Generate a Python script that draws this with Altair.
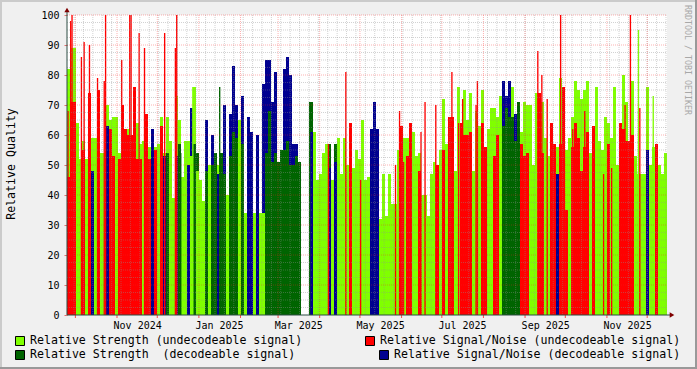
import altair as alt
import pandas as pd

# ---------------- data ----------------
START = "2024-09-24 18:00"
END = "2025-12-15 18:00"
N_BINS = 200

# g = strength undecodeable, r = S/N undecodeable, d = strength decodeable, b = S/N decodeable
BASE_C = ("rrrggrgrbg" "rggbrrgrrr" "rrrrrgrrbr" "grbdggbdgg" "bgdgggdgdd"
          "bddgdddgdg" "bbgbggdddd" "dddddddd__" "_bgggggbgb" "ggggrggggg"
          "gbbbgggggg" "grgrrggrgg" "gggrgrgrrg" "grrrrgggrr" "ggrrgddddd"
          "drrrgggrrg" "grrbrrrgrr" "rrrrgrgggg" "rgggrrrrrg" "gggbggrggg")
BASE_V = [46, 71, 71, 64, 52, 55, 52, 74, 48, 59,
          62, 47, 54, 63, 62, 53, 54, 52, 70, 62,
          60, 60, 76, 52, 52, 58, 67, 52, 62, 55,
          48, 63, 53, 54, 46, 39, 53, 57, 46, 46,
          50, 53, 57, 48, 45, 38, 48, 50, 50, 54,
          47, 54, 47, 40, 53, 61, 59, 45, 57, 34,
          66, 61, 34, 60, 34, 34, 54, 68, 51, 54,
          51, 55, 55, 58, 50, 50, 53, 51, 0, 0,
          0, 61, 51, 45, 47, 54, 50, 49, 45, 51,
          45, 47, 59, 50, 64, 42, 55, 52, 60, 45,
          46, 62, 71, 62, 32, 47, 33, 47, 37, 37,
          55, 63, 47, 53, 61, 56, 53, 48, 40, 40,
          33, 47, 51, 50, 55, 55, 57, 53, 66, 48,
          48, 54, 60, 60, 61, 48, 44, 63, 64, 50,
          52, 56, 53, 60, 56, 63, 69, 66, 66, 58,
          59, 57, 53, 54, 57, 50, 38, 74, 54, 59,
          53, 64, 57, 47, 57, 59, 35, 42, 56, 64,
          59, 48, 56, 61, 54, 63, 46, 58, 46, 57,
          57, 59, 48, 50, 56, 62, 58, 58, 60, 53,
          47, 47, 47, 55, 50, 45, 50, 50, 47, 47]

BACK_C = ("ggg--g--g-" "rg-ggggg--" "g--gg--g-g" "ggggg-gg-g" "gbgd--b-b-"
          "g-b-bbbgb-" "-----bbbbb" "--bbbbb---" "-dg---gd-d" "g----g--g-"
          "----------" "--ggrg-g--" "-----g-r--" "grggg-g-gr" "gggggbbbgb"
          "dgggg-g-g-" "---ggrgggg" "gggg--g-gg" "g-g-rgg-g-" "---g-gr--g")
BACK_V = [82, 89, 89, 0, 0, 58, 0, 0, 59, 0,
          75, 54, 0, 70, 65, 66, 66, 54, 0, 0,
          62, 0, 0, 64, 57, 0, 0, 56, 0, 56,
          57, 66, 54, 66, 58, 0, 73, 65, 0, 58,
          58, 69, 76, 54, 0, 0, 65, 0, 60, 0,
          50, 0, 70, 0, 67, 83, 70, 65, 73, 0,
          0, 0, 0, 0, 0, 77, 85, 85, 71, 81,
          0, 0, 82, 86, 80, 57, 57, 0, 0, 0,
          0, 71, 61, 0, 0, 0, 57, 57, 0, 57,
          59, 0, 0, 0, 0, 49, 0, 0, 65, 0,
          0, 0, 0, 0, 0, 0, 0, 0, 0, 0,
          0, 0, 59, 59, 64, 61, 0, 54, 0, 0,
          0, 0, 0, 0, 0, 72, 0, 66, 0, 0,
          76, 64, 75, 65, 74, 0, 68, 0, 75, 56,
          62, 69, 69, 66, 73, 78, 73, 78, 76, 67,
          71, 61, 71, 70, 70, 0, 74, 0, 71, 0,
          0, 0, 0, 56, 79, 76, 55, 59, 66, 78,
          75, 72, 75, 78, 0, 0, 76, 0, 55, 66,
          64, 0, 76, 0, 64, 80, 71, 0, 78, 0,
          0, 0, 0, 76, 0, 56, 57, 0, 0, 54]

SPIKE_DATES = ["2024-09-25", "2024-09-27", "2024-09-28", "2024-10-05", "2024-10-07",
               "2024-10-11", "2024-10-17", "2024-10-22", "2024-10-23", "2024-11-04",
               "2024-11-10", "2024-11-11", "2024-11-17", "2024-11-21", "2024-12-06",
               "2024-12-14", "2024-12-15", "2024-12-18", "2024-12-27", "2025-01-16",
               "2025-03-24", "2025-04-07", "2025-04-20", "2025-05-01", "2025-05-27",
               "2025-05-30", "2025-06-02", "2025-06-15", "2025-06-18", "2025-06-26",
               "2025-07-08", "2025-07-13", "2025-07-16", "2025-07-26", "2025-07-27",
               "2025-09-10", "2025-09-13", "2025-09-17", "2025-09-27", "2025-10-06",
               "2025-10-15", "2025-10-29", "2025-11-04", "2025-11-14", "2025-11-18",
               "2025-11-24", "2025-11-25", "2025-12-05"]
SPIKE_C = list("rrrrrrrrrrrrrrrrrdgddrrrrrrrrrrrrrrrrrrrrrrrrgrg")
SPIKE_V = [68, 98, 100, 86, 91, 90, 79, 78, 100, 85,
           100, 100, 94, 89, 94, 89, 100, 54, 76, 76,
           71, 57, 81, 45, 50, 68, 51, 61, 71, 70,
           81, 64, 72, 70, 78, 88, 80, 72, 100, 62,
           68, 47, 49, 70, 100, 95, 69, 73]

LABEL_MONTHS = ["2024-11-16", "2025-01-16", "2025-03-16", "2025-05-16",
                "2025-07-16", "2025-09-16", "2025-11-16"]
LEGEND = ["Relative Strength (undecodeable signal)",
          "Relative Strength\u00a0 (decodeable signal)",
          "Relative Signal/Noise (undecodeable signal)",
          "Relative Signal/Noise (decodeable signal)"]

# ---------------- build tables ----------------
edges = pd.date_range(pd.Timestamp(START), pd.Timestamp(END), periods=N_BINS + 1)
base = pd.DataFrame({"start": edges[:-1], "end": edges[1:], "c": list(BASE_C), "v": BASE_V})
base = base[(base.c != "_") & (base.v > 0)]
back = pd.DataFrame({"start": edges[:-1], "end": edges[1:], "c": list(BACK_C), "v": BACK_V})
back = back[(back.c != "-") & (back.v > 0)]
spk = pd.DataFrame({"start": pd.to_datetime(SPIKE_DATES), "c": SPIKE_C, "v": SPIKE_V})
spk["end"] = spk["start"] + pd.Timedelta(days=1)

weeks = pd.DataFrame({"start": pd.date_range("2024-09-30", END, freq="W-MON")})
months = pd.DataFrame({"start": pd.date_range("2024-10-01", END, freq="MS")})
minor_y = pd.DataFrame({"v": [k * 2.5 for k in range(1, 40) if k % 4]})
major_y = pd.DataFrame({"v": list(range(10, 101, 10))})

MONO = "DejaVu Sans Mono"
xscale = alt.Scale(domain=[alt.DateTime(year=2024, month=9, date=24, hours=18),
                           alt.DateTime(year=2025, month=12, date=15, hours=18)], nice=False)
yscale = alt.Scale(domain=[0, 100], nice=False)
cscale = alt.Scale(domain=["g", "r", "d", "b"],
                   range=["#80FF00", "#FF0000", "#006400", "#000090"])

xaxis = alt.Axis(values=[alt.DateTime(year=int(s[:4]), month=int(s[5:7]), date=16) for s in LABEL_MONTHS],
                 format="%b %Y", ticks=False, domain=False, grid=False, title=None,
                 labelFont=MONO, labelFontSize=10, labelColor="#000000",
                 labelBaseline="alphabetic", labelPadding=13, labelOverlap=False, labelFlush=False)
yaxis = alt.Axis(values=list(range(0, 101, 10)), domain=False, grid=False, title=None,
                 labelFont=MONO, labelFontSize=10, labelColor="#000000",
                 tickColor="#E07070", tickSize=3, labelPadding=5)

X = alt.X("start:T", scale=xscale, axis=xaxis)
Y = alt.Y("v:Q", scale=yscale, axis=yaxis)


def bars(df):
    return alt.Chart(df).mark_rect().encode(
        x=X, x2="end:T", y=Y, y2=alt.datum(0),
        color=alt.Color("c:N", scale=cscale, legend=None),
    )


layers = [bars(back), bars(base), bars(spk)]

# grid on top (semi-transparent, dotted like rrdtool)
layers.append(alt.Chart(minor_y).mark_rule(color="#8F8F8F", opacity=0.4, strokeDash=[1, 1]).encode(
    y=Y, x=alt.value(0), x2=alt.value(600)))
layers.append(alt.Chart(weeks).mark_rule(color="#8F8F8F", opacity=0.4, strokeDash=[1, 1]).encode(
    x=X, y=alt.value(0), y2=alt.value(300)))
layers.append(alt.Chart(major_y).mark_rule(color="#F92020", opacity=0.35, strokeDash=[1, 1]).encode(
    y=Y, x=alt.value(0), x2=alt.value(600)))
layers.append(alt.Chart(months).mark_rule(color="#F92020", opacity=0.35, strokeDash=[1, 1]).encode(
    x=X, y=alt.value(0), y2=alt.value(300)))
layers.append(alt.Chart(months).mark_rule(color="#F92020", opacity=0.8).encode(
    x=X, y=alt.value(300), y2=alt.value(303)))

one = pd.DataFrame({"k": [0]})
AXC = "#2C4D43"
layers.append(alt.Chart(one).mark_rule(color=AXC).encode(x=alt.value(0), y=alt.value(-3), y2=alt.value(300)))
layers.append(alt.Chart(one).mark_rule(color=AXC).encode(x=alt.value(0), x2=alt.value(603), y=alt.value(300)))
layers.append(alt.Chart(one).mark_point(shape="triangle-up", filled=True, color="#7F0000", size=28, opacity=1).encode(
    x=alt.value(0), y=alt.value(-5)))
layers.append(alt.Chart(one).mark_point(shape="triangle-right", filled=True, color="#7F0000", size=28, opacity=1).encode(
    x=alt.value(605), y=alt.value(300)))

# y title and watermark
layers.append(alt.Chart(one).mark_text(text="Relative Quality", font=MONO, fontSize=11.6, angle=270,
                                       align="center", baseline="middle", color="#000000").encode(
    x=alt.value(-55.5), y=alt.value(149)))
layers.append(alt.Chart(one).mark_text(text="RRDTOOL / TOBI OETIKER", font=MONO, fontSize=8.3, angle=90,
                                       align="center", baseline="middle", color="#A8A8A8").encode(
    x=alt.value(620), y=alt.value(45)))

# legend
leg = [(-52, 321, -37, 329.3, "#80FF00", LEGEND[0]),
       (-52, 335, -37, 343.3, "#006400", LEGEND[1]),
       (298, 321, 313, 329.3, "#FF0000", LEGEND[2]),
       (312, 335, 327, 343.3, "#000090", LEGEND[3])]
for bx, by, tx, ty, col, txt in leg:
    layers.append(alt.Chart(one).mark_rect(fill=col, stroke="#000000", strokeWidth=1).encode(
        x=alt.value(bx + 0.5), x2=alt.value(bx + 9.5), y=alt.value(by + 0.5), y2=alt.value(by + 9.5)))
    layers.append(alt.Chart(one).mark_text(text=txt, font=MONO, fontSize=11.6, align="left",
                                           baseline="alphabetic", color="#000000").encode(
        x=alt.value(tx), y=alt.value(ty)))

# 3D frame
for x1, x2, y1, y2, col in [(-67, 630, -15, -13, "#CBCBCB"), (-67, -65, -15, 354, "#CBCBCB"),
                            (-67, 630, 352, 354, "#999999"), (628, 630, -15, 354, "#999999")]:
    layers.append(alt.Chart(one).mark_rect(color=col).encode(
        x=alt.value(x1), x2=alt.value(x2), y=alt.value(y1), y2=alt.value(y2)))

chart = alt.layer(*layers).properties(
    width=600, height=300,
    padding={"left": 67, "top": 15, "right": 30, "bottom": 54},
    autosize=alt.AutoSizeParams(type="none"),
).configure(background="#F0F0F0").configure_view(fill="white", stroke=None)

chart.save("out.html", embed_options={"renderer": "svg", "actions": False})
